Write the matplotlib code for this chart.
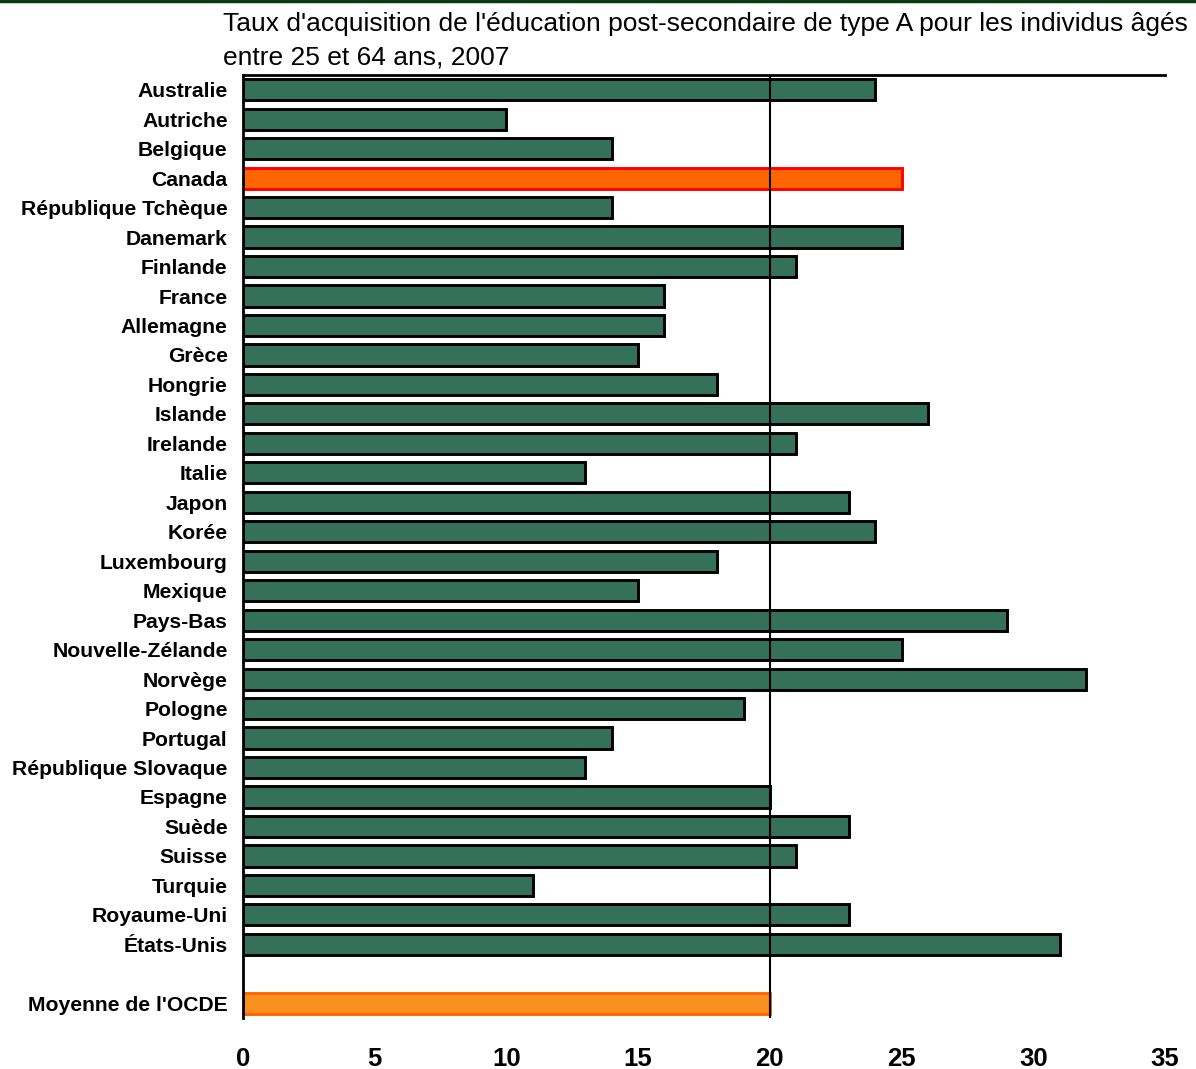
import matplotlib
matplotlib.use("Agg")
import matplotlib.pyplot as plt
from matplotlib.lines import Line2D

countries = ["Australie", "Autriche", "Belgique", "Canada", "République Tchèque",
             "Danemark", "Finlande", "France", "Allemagne", "Grèce", "Hongrie",
             "Islande", "Irelande", "Italie", "Japon", "Korée", "Luxembourg",
             "Mexique", "Pays-Bas", "Nouvelle-Zélande", "Norvège", "Pologne",
             "Portugal", "République Slovaque", "Espagne", "Suède", "Suisse",
             "Turquie", "Royaume-Uni", "États-Unis"]
values = [24, 10, 14, 25, 14, 25, 21, 16, 16, 15, 18, 26, 21, 13, 23, 24, 18,
          15, 29, 25, 32, 19, 14, 13, 20, 23, 21, 11, 23, 31]
avg_label = "Moyenne de l'OCDE"
avg_value = 20
highlight = "Canada"
xticks = [0, 5, 10, 15, 20, 25, 30, 35]
title = ("Taux d'acquisition de l'éducation post-secondaire de type A pour les individus âgés\n"
         "entre 25 et 64 ans, 2007")

plt.rcParams['font.family'] = ['Liberation Sans', 'DejaVu Sans']

fig = plt.figure(figsize=(11.96, 10.69), dpi=100)
ax = fig.add_axes([243/1196, 1 - 1018/1069, (1165-243)/1196, (1018-75)/1069])

green = "#34705A"
for i, (c, v) in enumerate(zip(countries, values)):
    if c == highlight:
        ax.barh(i, v, height=0.72, color="#FF6600", edgecolor="#FF0000", linewidth=2.1, zorder=2)
    else:
        ax.barh(i, v, height=0.72, color=green, edgecolor="black", linewidth=2.1, zorder=2)
avg_pos = len(countries) + 1
ax.barh(avg_pos, avg_value, height=0.72, color="#F7901E", edgecolor="#FF6600", linewidth=2.1, zorder=2)

ax.set_ylim(avg_pos + 0.5, -0.5)
ax.set_xlim(0, 35)
ax.axvline(20, color="black", linewidth=1.5, zorder=3)

ax.set_yticks(list(range(len(countries))) + [avg_pos])
ax.set_yticklabels(countries + [avg_label], fontsize=15.2, fontweight="bold")
ax.set_xticks(xticks)
ax.set_xticklabels([str(t) for t in xticks], fontsize=18.5, fontweight="bold")
ax.tick_params(axis="y", length=0, pad=11)
ax.tick_params(axis="x", length=0, pad=21)

for s in ["right", "bottom"]:
    ax.spines[s].set_visible(False)
ax.spines["left"].set_linewidth(2)
ax.spines["top"].set_linewidth(2)
ax.spines["left"].set_zorder(4)

fig.text(223/1196, 1 - 12/1069, title, ha="left", va="top", fontsize=19, linespacing=1.5)

fig.add_artist(Line2D([0, 1], [1 - 1/1069, 1 - 1/1069], color="#0B3A12", linewidth=2.5, transform=fig.transFigure))

fig.savefig("out.png", dpi=100)
